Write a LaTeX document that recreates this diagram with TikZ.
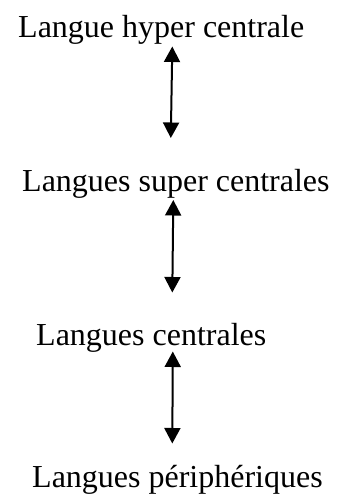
\documentclass[tikz,border=0pt]{standalone}
\usepackage{fontspec}
\setmainfont{Liberation Serif}
\usetikzlibrary{arrows.meta}
\begin{document}
\begin{tikzpicture}[x=1pt,y=-1pt,
  lbl/.style={anchor=base west,inner sep=0pt,font=\fontsize{32}{38}\selectfont},
  link/.style={line width=2pt,{Triangle[width=16pt,length=15.5pt]}-{Triangle[width=16pt,length=15.5pt]}}]
\useasboundingbox (0,0) rectangle (337,504);
\node[lbl] (t1) at (18,37.5) {Langue hyper centrale};
\node[lbl] (t2) at (22,191.5) {Langues super centrales};
\node[lbl] (t3) at (36,345) {Langues centrales};
\node[lbl] (t4) at (32,487) {Langues périphériques};
\coordinate (a1) at (172.3,46.5);
\coordinate (b1) at (170.8,138);
\coordinate (a2) at (173.3,200);
\coordinate (b2) at (172.3,292.5);
\coordinate (a3) at (172.8,351.5);
\coordinate (b3) at (172.3,443.5);
\draw[link] (a1) -- (b1);
\draw[link] (a2) -- (b2);
\draw[link] (a3) -- (b3);
\end{tikzpicture}
\end{document}
